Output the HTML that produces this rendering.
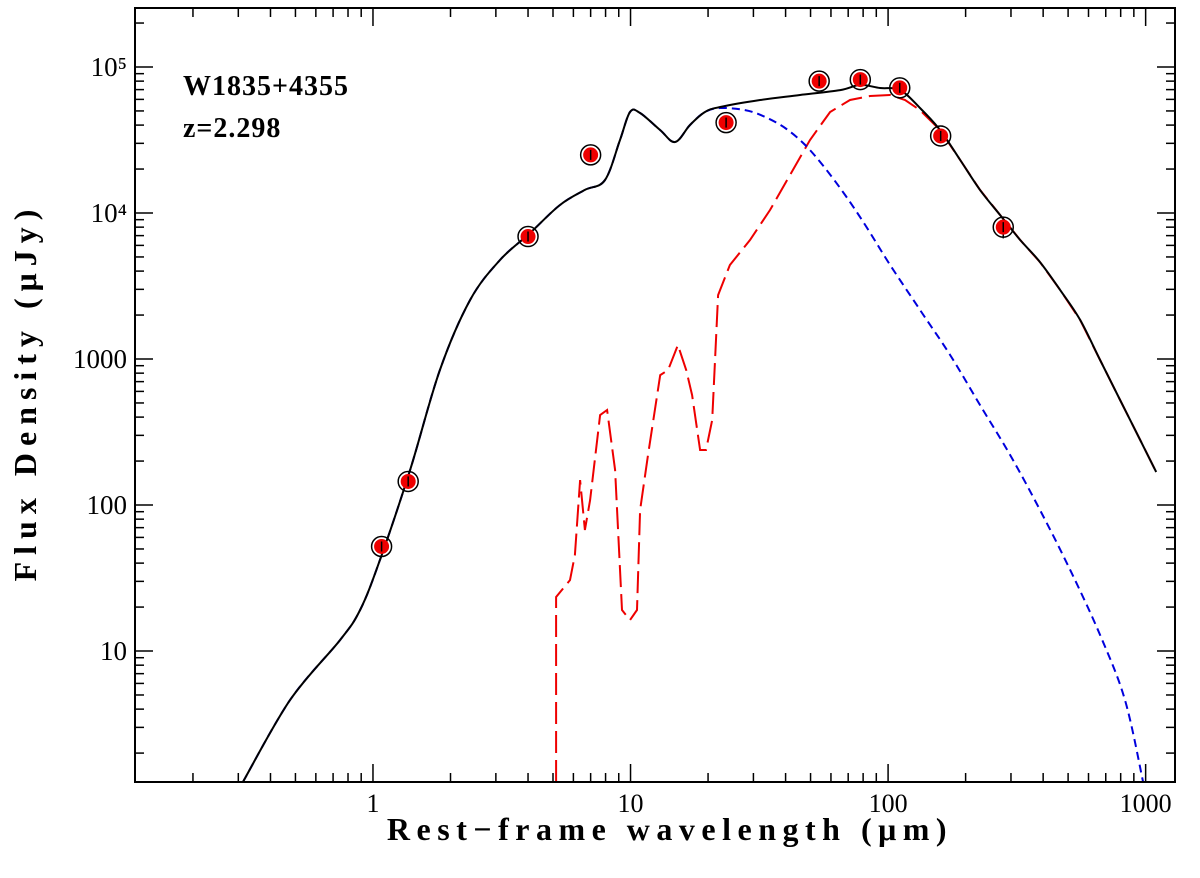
<!DOCTYPE html>
<html><head><meta charset="utf-8"><style>
body{margin:0;background:#fff;}
svg text{font-family:"Liberation Serif",serif;}
</style></head><body>
<svg id="chart" width="1200" height="873" xmlns="http://www.w3.org/2000/svg">
<g id="grid"></g>
<g id="series"></g>
<rect x="135" y="8" width="1040" height="774" fill="none" stroke="#000" stroke-width="2"/>
<text x="183" y="95" font-size="28" font-weight="bold" letter-spacing="1">W1835+4355</text>
<text x="183" y="137" font-size="28" font-weight="bold" letter-spacing="1">z=2.298</text>
<text x="670" y="840" font-size="32" font-weight="bold" text-anchor="middle" letter-spacing="6.5">Rest−frame wavelength (μm)</text>
<text transform="translate(36,392) rotate(-90)" font-size="32" font-weight="bold" text-anchor="middle" letter-spacing="7">Flux Density (μJy)</text>
</svg>
<script>
const xTickVals=[1,10,100,1000];
const xTickLabels=["1","10","100","1000"];
const yTickVals=[10,100,1000,1e4,1e5];
const yTickLabels=["10","100","1000","10⁴","10⁵"];
const totalLogLam=[-0.505,-0.322,-0.128,-0.050,0.027,0.144,0.260,0.377,0.493,0.610,0.726,0.823,0.901,0.959,0.998,1.037,1.115,1.173,1.231,1.289,1.348,1.503,1.658,1.814,1.891,1.969,2.047,2.124,2.202,2.280,2.357,2.435,2.513,2.590,2.668,2.746,2.823,2.901,2.979,3.041];
const totalLogF=[0.103,0.664,1.075,1.281,1.623,2.240,2.925,3.404,3.678,3.863,4.055,4.158,4.226,4.500,4.692,4.685,4.568,4.486,4.603,4.692,4.726,4.774,4.808,4.842,4.877,4.856,4.842,4.719,4.568,4.363,4.158,3.986,3.815,3.664,3.473,3.267,2.993,2.719,2.445,2.226];
const agnLogLam=[-0.505,-0.322,-0.128,-0.050,0.027,0.144,0.260,0.377,0.493,0.610,0.726,0.823,0.901,0.959,0.998,1.037,1.115,1.173,1.231,1.289,1.348,1.445,1.522,1.600,1.678,1.755,1.833,1.911,2.008,2.124,2.241,2.357,2.474,2.590,2.707,2.823,2.920,2.990];
const agnLogF=[0.103,0.664,1.075,1.281,1.623,2.240,2.925,3.404,3.678,3.863,4.055,4.158,4.226,4.500,4.692,4.685,4.568,4.486,4.603,4.692,4.719,4.705,4.658,4.582,4.466,4.308,4.123,3.918,3.644,3.336,3.027,2.685,2.342,1.966,1.555,1.110,0.664,0.103];
const sfLogLam=[0.711,0.711,0.765,0.784,0.804,0.823,0.843,0.882,0.909,0.940,0.967,0.998,1.025,1.037,1.068,1.115,1.146,1.184,1.216,1.239,1.270,1.293,1.317,1.340,1.386,1.464,1.542,1.619,1.697,1.775,1.852,1.930,2.008,2.066,2.124,2.202,2.280,2.357,2.435,2.513,2.590,2.668,2.746,2.823,2.901,2.979,3.041];
const sfLogF=[0.103,1.370,1.486,1.658,2.171,1.829,2.034,2.616,2.651,2.240,1.281,1.212,1.281,1.966,2.342,2.890,2.925,3.096,2.925,2.753,2.377,2.377,2.582,3.438,3.644,3.815,4.021,4.260,4.500,4.692,4.774,4.801,4.808,4.774,4.705,4.568,4.363,4.158,3.986,3.815,3.664,3.473,3.267,2.993,2.719,2.445,2.226];
const obsLam=[1.08,1.37,4.0,7.0,23.5,54,78,111,160,280];
const obsFlux=[52,145,6900,25000,41600,80000,82000,72000,33700,8000];
const obsErr=[3,8,400,1500,2500,5000,5000,5000,2500,1300];

const X0=135,X1=1175,Y0=782,Y1=8;
const LX0=-0.924,LX1=3.114,LY0=0.103,LY1=5.404;
function xL(l){return X0+(l-LX0)/(LX1-LX0)*(X1-X0);}
function yL(l){return Y0-(l-LY0)/(LY1-LY0)*(Y0-Y1);}
function xs(v){return xL(Math.log10(v));}
function ys(v){return yL(Math.log10(v));}
const NS="http://www.w3.org/2000/svg";
function mk(t,a,p){const e=document.createElementNS(NS,t);for(const k in a)e.setAttribute(k,a[k]);p.appendChild(e);return e;}
const G=document.getElementById('grid'),S=document.getElementById('series');
for(let d=-1;d<=3;d++){for(let m=1;m<=9;m++){const v=m*Math.pow(10,d);const lg=Math.log10(v);if(lg<LX0||lg>LX1)continue;const x=xL(lg);const len=m===1?18:9;
const t1=mk('line',{x1:x,x2:x,y1:Y0,y2:Y0-len,stroke:'#000','stroke-width':1.5},G);


const t2=mk('line',{x1:x,x2:x,y1:Y1,y2:Y1+len,stroke:'#000','stroke-width':1.5},G);

}}
xTickVals.forEach((v,i)=>{const t=mk('text',{x:xs(v),y:Y0+30,'font-size':26,'text-anchor':'middle'},G);t.textContent=xTickLabels[i];

});
for(let d=0;d<=5;d++){for(let m=1;m<=9;m++){const v=m*Math.pow(10,d);const lg=Math.log10(v);if(lg<LY0||lg>LY1)continue;const y=yL(lg);const len=m===1?18:9;
const t1=mk('line',{x1:X0,x2:X0+len,y1:y,y2:y,stroke:'#000','stroke-width':1.5},G);


const t2=mk('line',{x1:X1,x2:X1-len,y1:y,y2:y,stroke:'#000','stroke-width':1.5},G);

}}
yTickVals.forEach((v,i)=>{const t=mk('text',{x:X0-8,y:ys(v)+9,'font-size':27,'text-anchor':'end'},G);t.textContent=yTickLabels[i];

});
function path(lx,ly){return lx.map((l,i)=>(i?'L':'M')+xL(l).toFixed(1)+','+yL(ly[i]).toFixed(1)).join(' ');}
function smooth(lx,ly){const P=lx.map((l,i)=>[xL(l),yL(ly[i])]);let d='M'+P[0][0].toFixed(1)+','+P[0][1].toFixed(1);
for(let i=0;i<P.length-1;i++){const p0=P[Math.max(0,i-1)],p1=P[i],p2=P[i+1],p3=P[Math.min(P.length-1,i+2)];
const c1=[p1[0]+(p2[0]-p0[0])/6,p1[1]+(p2[1]-p0[1])/6],c2=[p2[0]-(p3[0]-p1[0])/6,p2[1]-(p3[1]-p1[1])/6];
d+=' C'+c1[0].toFixed(1)+','+c1[1].toFixed(1)+' '+c2[0].toFixed(1)+','+c2[1].toFixed(1)+' '+p2[0].toFixed(1)+','+p2[1].toFixed(1);}return d;}
const red=mk('path',{d:path(sfLogLam,sfLogF),fill:'none',stroke:'#e00','stroke-width':2,'stroke-dasharray':'22,7'},S);


const blue=mk('path',{d:smooth(agnLogLam,agnLogF),fill:'none',stroke:'#00d','stroke-width':2,'stroke-dasharray':'8,5'},S);


const blk=mk('path',{d:smooth(totalLogLam,totalLogF),fill:'none',stroke:'#000','stroke-width':2},S);


obsLam.forEach((l,i)=>{const x=xs(l),y=ys(obsFlux[i]);
const e=mk('line',{x1:x,x2:x,y1:ys(obsFlux[i]+obsErr[i]),y2:ys(obsFlux[i]-obsErr[i]),stroke:'#000','stroke-width':1.5},S);


const c=mk('circle',{cx:x,cy:y,r:10,fill:'none',stroke:'#000','stroke-width':1.5},S);


const f=mk('circle',{cx:x,cy:y,r:7.5,fill:'#e00'},S);


const m=mk('line',{x1:x,x2:x,y1:y-5,y2:y+5,stroke:'#000','stroke-width':1.5},S);

});
</script>
</body></html>
